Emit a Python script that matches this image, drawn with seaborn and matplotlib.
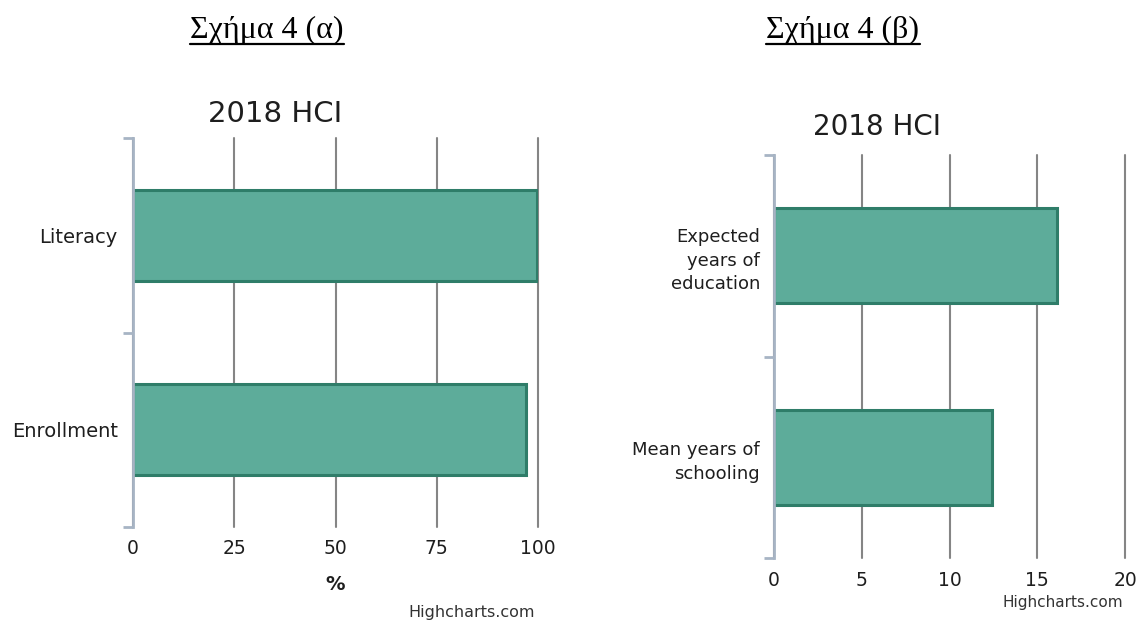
import matplotlib
matplotlib.use("Agg")
import matplotlib.pyplot as plt
from matplotlib.lines import Line2D
import pandas as pd
import seaborn as sns

# Data
left_categories = ["Literacy", "Enrollment"]
left_values = [99.8, 97.0]
left_ticks = [0, 25, 50, 75, 100]

right_categories = ["Expected\nyears of\neducation", "Mean years of\nschooling"]
right_values = [16.1, 12.4]
right_ticks = [0, 5, 10, 15, 20]

panel_captions = ["Σχήμα 4 (α)", "Σχήμα 4 (β)"]
chart_title = "2018 HCI"
credit = "Highcharts.com"

BAR_FILL = "#5dac9a"
BAR_EDGE = "#2f7d69"
GRID = "#858585"
AXIS = "#a7b4c4"
TEXT = "#1e1e1e"

sns.set_theme(style="white")
plt.rcParams["font.family"] = ["DejaVu Sans"]

W, H = 1142, 624
fig = plt.figure(figsize=(W / 100, H / 100), dpi=100)


def px_axes(x0, y0, x1, y1):
    return fig.add_axes([x0 / W, 1 - y1 / H, (x1 - x0) / W, (y1 - y0) / H])


def style_panel(ax, cats, vals, ticks, label_size, tick_pad, ylabel_pad, linespacing):
    df = pd.DataFrame({"cat": cats, "val": vals})
    sns.barplot(data=df, x="val", y="cat", orient="h", ax=ax, width=0.47,
                color=BAR_FILL, saturation=1, edgecolor=BAR_EDGE, linewidth=2.2,
                zorder=3)
    ax.set_xlim(ticks[0], ticks[-1])
    ax.set_ylim(1.5, -0.5)
    ax.set_xticks(ticks)
    ax.set_xticklabels([str(t) for t in ticks], fontsize=13.5, color=TEXT)
    ax.grid(axis="x", color=GRID, linewidth=1.5, zorder=0)
    ax.grid(axis="y", visible=False)
    ax.set_axisbelow(True)
    for gl in ax.get_xgridlines():
        gl.set_clip_on(False)
    for s in ["top", "right", "bottom"]:
        ax.spines[s].set_visible(False)
    ax.spines["left"].set_color(AXIS)
    ax.spines["left"].set_linewidth(2)
    ax.spines["left"].set_zorder(4)
    ax.tick_params(axis="x", length=0, pad=tick_pad)
    ax.tick_params(axis="y", which="major", length=0, pad=ylabel_pad,
                   labelsize=label_size, labelcolor=TEXT)
    ax.set_yticks([-0.5, 0.5, 1.5], minor=True)
    ax.tick_params(axis="y", which="minor", left=True, length=7, width=2,
                   color=AXIS, direction="out")
    for lbl in ax.get_yticklabels():
        lbl.set_linespacing(linespacing)
        lbl.set_horizontalalignment("right")
    ax.set_ylabel("")
    ax.set_xlabel("")


# Left panel
ax1 = px_axes(133, 138, 538, 527)
style_panel(ax1, left_categories, left_values, left_ticks, 14, 9, 11, 1.2)
ax1.set_xlabel("%", fontsize=14, fontweight="bold", color=TEXT, labelpad=12)

# Right panel
ax2 = px_axes(774, 155, 1125, 558)
style_panel(ax2, right_categories, right_values, right_ticks, 13, 9, 10, 1.4)

# Chart titles and credits
fig.text(275 / W, 1 - 122 / H, chart_title, fontsize=21, color=TEXT,
         ha="center", va="baseline")
fig.text(877 / W, 1 - 135 / H, chart_title, fontsize=20, color=TEXT,
         ha="center", va="baseline")
fig.text(472 / W, 1 - 613 / H, credit, fontsize=11.5, color="#333333",
         ha="center", va="center")
fig.text(1063 / W, 1 - 602 / H, credit, fontsize=11, color="#333333",
         ha="center", va="center")

# Underlined panel captions
captions = []
for cx, text in zip([267, 843], panel_captions):
    t = fig.text(cx / W, 1 - 38 / H, text, fontsize=23, color="black",
                 family="Liberation Serif", ha="center", va="baseline")
    captions.append(t)

fig.canvas.draw()
renderer = fig.canvas.get_renderer()
for t in captions:
    bb = t.get_window_extent(renderer=renderer)
    y = 1 - 44 / H
    fig.add_artist(Line2D([bb.x0 / W, bb.x1 / W], [y, y], color="black",
                          linewidth=1.6, transform=fig.transFigure))

fig.savefig("out.png", dpi=100)
